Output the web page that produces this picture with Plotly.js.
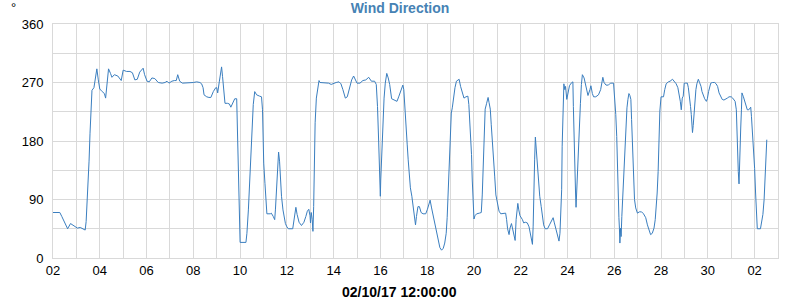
<!DOCTYPE html>
<html>
<head>
<meta charset="utf-8">
<script src="https://cdn.plot.ly/plotly-3.0.1.min.js"></script>
<style>html,body{margin:0;padding:0;background:#fff;}#chart{width:800px;height:300px;}</style>
</head>
<body>
<div id="chart"></div>
<script>
const chartTitle = 'Wind Direction';
const xAxisTitle = '02/10/17 12:00:00';
const yUnit = '°';

const times = [
'2017-09-02 00:00','2017-09-02 07:00','2017-09-02 09:00','2017-09-02 12:00','2017-09-02 15:00','2017-09-02 18:00','2017-09-02 21:00',
'2017-09-03 01:00','2017-09-03 04:00','2017-09-03 07:30','2017-09-03 09:00','2017-09-03 10:00','2017-09-03 11:00','2017-09-03 12:00','2017-09-03 13:00','2017-09-03 14:00','2017-09-03 15:00','2017-09-03 16:00','2017-09-03 18:00','2017-09-03 19:00','2017-09-03 21:00','2017-09-03 22:30',
'2017-09-04 00:00','2017-09-04 02:30','2017-09-04 04:45','2017-09-04 06:00','2017-09-04 07:30','2017-09-04 09:00','2017-09-04 11:00','2017-09-04 12:30','2017-09-04 15:00','2017-09-04 18:30','2017-09-04 22:00',
'2017-09-05 00:00','2017-09-05 03:30','2017-09-05 07:00','2017-09-05 09:30','2017-09-05 12:00','2017-09-05 14:30','2017-09-05 17:00','2017-09-05 20:30','2017-09-05 22:00',
'2017-09-06 00:30','2017-09-06 02:45','2017-09-06 05:30','2017-09-06 08:30','2017-09-06 12:00','2017-09-06 16:00','2017-09-06 19:00','2017-09-06 21:00','2017-09-06 23:00',
'2017-09-07 02:00','2017-09-07 04:30','2017-09-07 06:30','2017-09-07 08:00','2017-09-07 10:00','2017-09-07 12:45','2017-09-07 17:00','2017-09-07 20:30',
'2017-09-08 00:00','2017-09-08 03:30','2017-09-08 06:45','2017-09-08 08:30','2017-09-08 10:00','2017-09-08 11:00','2017-09-08 13:45','2017-09-08 16:00','2017-09-08 18:00','2017-09-08 20:30','2017-09-08 23:00',
'2017-09-09 00:00','2017-09-09 01:00','2017-09-09 02:45','2017-09-09 03:45','2017-09-09 05:00','2017-09-09 06:00','2017-09-09 07:30','2017-09-09 08:30','2017-09-09 11:00','2017-09-09 13:00','2017-09-09 14:30','2017-09-09 16:45','2017-09-09 18:30','2017-09-09 20:30','2017-09-09 21:00','2017-09-09 22:15','2017-09-09 23:00',
'2017-09-10 00:00','2017-09-10 06:00','2017-09-10 07:00','2017-09-10 08:30','2017-09-10 09:30','2017-09-10 10:30','2017-09-10 11:30','2017-09-10 12:30','2017-09-10 13:30','2017-09-10 15:00','2017-09-10 17:00','2017-09-10 20:00','2017-09-10 22:00','2017-09-10 23:00','2017-09-10 23:30',
'2017-09-11 00:15','2017-09-11 01:30','2017-09-11 02:30','2017-09-11 03:30','2017-09-11 07:00','2017-09-11 08:00','2017-09-11 10:00','2017-09-11 11:30','2017-09-11 12:15','2017-09-11 13:15','2017-09-11 14:30','2017-09-11 15:30','2017-09-11 16:30','2017-09-11 17:30','2017-09-11 18:30','2017-09-11 20:00','2017-09-11 21:00','2017-09-11 22:30',
'2017-09-12 00:00','2017-09-12 01:30','2017-09-12 06:00','2017-09-12 07:30','2017-09-12 09:15','2017-09-12 10:30','2017-09-12 12:30','2017-09-12 15:00','2017-09-12 17:30','2017-09-12 19:30','2017-09-12 21:00','2017-09-12 22:30','2017-09-12 23:45',
'2017-09-13 00:15','2017-09-13 01:00','2017-09-13 02:00','2017-09-13 02:45','2017-09-13 03:30','2017-09-13 04:00','2017-09-13 05:00','2017-09-13 06:15','2017-09-13 07:30','2017-09-13 09:00','2017-09-13 10:00','2017-09-13 15:30','2017-09-13 18:45','2017-09-13 21:30',
'2017-09-14 00:00','2017-09-14 02:30','2017-09-14 05:30','2017-09-14 07:30','2017-09-14 09:30','2017-09-14 11:00','2017-09-14 12:00','2017-09-14 14:00','2017-09-14 16:30','2017-09-14 18:30','2017-09-14 20:30','2017-09-14 22:30',
'2017-09-15 00:00','2017-09-15 03:00','2017-09-15 06:00','2017-09-15 09:00','2017-09-15 12:00','2017-09-15 14:45','2017-09-15 18:00','2017-09-15 19:45','2017-09-15 21:00','2017-09-15 22:15','2017-09-15 23:15','2017-09-15 23:55',
'2017-09-16 00:20','2017-09-16 01:30','2017-09-16 02:30','2017-09-16 03:45','2017-09-16 05:00','2017-09-16 06:30','2017-09-16 08:00','2017-09-16 09:30','2017-09-16 11:30','2017-09-16 14:30','2017-09-16 17:00','2017-09-16 19:00','2017-09-16 21:00','2017-09-16 23:00',
'2017-09-17 00:00','2017-09-17 01:00','2017-09-17 02:00','2017-09-17 03:30','2017-09-17 04:30','2017-09-17 05:30','2017-09-17 06:45','2017-09-17 08:15','2017-09-17 09:30','2017-09-17 11:00','2017-09-17 12:00','2017-09-17 13:00','2017-09-17 14:30','2017-09-17 16:00','2017-09-17 17:45','2017-09-17 19:45','2017-09-17 22:30',
'2017-09-18 00:15','2017-09-18 01:45','2017-09-18 03:00','2017-09-18 04:30','2017-09-18 06:15','2017-09-18 08:00','2017-09-18 09:30','2017-09-18 11:15','2017-09-18 13:00','2017-09-18 14:45','2017-09-18 16:30','2017-09-18 18:00','2017-09-18 19:30','2017-09-18 20:30','2017-09-18 21:30','2017-09-18 22:30','2017-09-18 23:30',
'2017-09-19 00:45','2017-09-19 01:45','2017-09-19 03:00','2017-09-19 04:30','2017-09-19 06:00','2017-09-19 08:45','2017-09-19 10:15','2017-09-19 12:00','2017-09-19 13:45','2017-09-19 15:45','2017-09-19 17:45','2017-09-19 18:45','2017-09-19 19:45','2017-09-19 21:00','2017-09-19 21:30','2017-09-19 22:15','2017-09-19 23:00',
'2017-09-20 00:00','2017-09-20 01:00','2017-09-20 02:45','2017-09-20 05:30','2017-09-20 07:30','2017-09-20 08:30','2017-09-20 09:30','2017-09-20 10:30','2017-09-20 11:30','2017-09-20 13:00','2017-09-20 14:30','2017-09-20 15:30','2017-09-20 16:45','2017-09-20 17:45','2017-09-20 19:15','2017-09-20 20:15','2017-09-20 21:15','2017-09-20 22:30',
'2017-09-21 00:00','2017-09-21 01:45','2017-09-21 03:30','2017-09-21 06:15','2017-09-21 08:30','2017-09-21 09:30','2017-09-21 10:30','2017-09-21 12:00','2017-09-21 13:00','2017-09-21 14:30','2017-09-21 15:30','2017-09-21 16:30','2017-09-21 17:15','2017-09-21 18:15','2017-09-21 19:15','2017-09-21 20:00','2017-09-21 21:00','2017-09-21 22:00','2017-09-21 23:15',
'2017-09-22 01:45','2017-09-22 03:00','2017-09-22 04:45','2017-09-22 06:45','2017-09-22 08:30','2017-09-22 10:00','2017-09-22 11:00','2017-09-22 12:00','2017-09-22 12:45','2017-09-22 13:15','2017-09-22 14:15','2017-09-22 15:00','2017-09-22 16:00','2017-09-22 17:00','2017-09-22 18:00','2017-09-22 19:30','2017-09-22 21:00','2017-09-22 22:15','2017-09-22 23:30',
'2017-09-23 01:00','2017-09-23 03:30','2017-09-23 05:30','2017-09-23 07:30','2017-09-23 09:15','2017-09-23 10:30','2017-09-23 12:00','2017-09-23 13:15','2017-09-23 15:15','2017-09-23 16:15','2017-09-23 17:00','2017-09-23 18:00','2017-09-23 18:30','2017-09-23 19:15','2017-09-23 20:15','2017-09-23 21:15','2017-09-23 22:00','2017-09-23 23:15',
'2017-09-24 00:45','2017-09-24 02:00','2017-09-24 03:45','2017-09-24 05:30','2017-09-24 06:00','2017-09-24 06:45','2017-09-24 07:30','2017-09-24 08:15','2017-09-24 08:45','2017-09-24 09:30','2017-09-24 10:15','2017-09-24 11:15','2017-09-24 12:15','2017-09-24 13:15','2017-09-24 14:15','2017-09-24 15:15','2017-09-24 17:00','2017-09-24 18:30','2017-09-24 19:45','2017-09-24 21:00','2017-09-24 23:00',
'2017-09-25 00:00','2017-09-25 01:30','2017-09-25 02:45','2017-09-25 05:00','2017-09-25 07:45','2017-09-25 10:00','2017-09-25 11:15','2017-09-25 12:15','2017-09-25 13:30','2017-09-25 15:30','2017-09-25 18:00','2017-09-25 20:00','2017-09-25 23:15',
'2017-09-26 00:15','2017-09-26 01:30','2017-09-26 02:30','2017-09-26 03:00','2017-09-26 03:45','2017-09-26 04:45','2017-09-26 05:15','2017-09-26 05:45','2017-09-26 06:30','2017-09-26 07:00','2017-09-26 07:45','2017-09-26 08:45','2017-09-26 10:00','2017-09-26 11:00','2017-09-26 12:00','2017-09-26 13:00','2017-09-26 14:00','2017-09-26 15:00','2017-09-26 16:00','2017-09-26 17:00','2017-09-26 17:45','2017-09-26 18:45','2017-09-26 19:45','2017-09-26 20:45','2017-09-26 22:00','2017-09-26 23:45',
'2017-09-27 01:45','2017-09-27 04:00','2017-09-27 06:00','2017-09-27 08:15','2017-09-27 10:00','2017-09-27 11:30','2017-09-27 13:15','2017-09-27 15:00','2017-09-27 16:45','2017-09-27 18:00','2017-09-27 19:00','2017-09-27 20:00','2017-09-27 21:00','2017-09-27 21:45','2017-09-27 22:45',
'2017-09-28 00:00','2017-09-28 02:30','2017-09-28 03:45','2017-09-28 05:15','2017-09-28 07:30','2017-09-28 09:15','2017-09-28 11:45','2017-09-28 13:30','2017-09-28 15:30','2017-09-28 17:15','2017-09-28 18:30','2017-09-28 19:45','2017-09-28 20:45','2017-09-28 21:45','2017-09-28 22:45','2017-09-28 23:45',
'2017-09-29 01:00','2017-09-29 03:00','2017-09-29 04:00','2017-09-29 05:15','2017-09-29 06:15','2017-09-29 07:00','2017-09-29 07:30','2017-09-29 08:15','2017-09-29 09:00','2017-09-29 09:45','2017-09-29 10:45','2017-09-29 11:45','2017-09-29 12:45','2017-09-29 14:15','2017-09-29 15:30','2017-09-29 17:00','2017-09-29 18:00','2017-09-29 19:15','2017-09-29 20:45','2017-09-29 22:30','2017-09-29 23:30',
'2017-09-30 00:45','2017-09-30 01:45','2017-09-30 03:00','2017-09-30 04:45','2017-09-30 07:00','2017-09-30 08:30','2017-09-30 10:00','2017-09-30 11:30','2017-09-30 13:00','2017-09-30 14:45','2017-09-30 16:30','2017-09-30 18:15','2017-09-30 20:00','2017-09-30 21:45',
'2017-10-01 00:00','2017-10-01 01:30','2017-10-01 02:45','2017-10-01 04:00','2017-10-01 05:15','2017-10-01 06:00','2017-10-01 06:30','2017-10-01 07:15','2017-10-01 08:00','2017-10-01 08:30','2017-10-01 09:45','2017-10-01 10:30','2017-10-01 11:00','2017-10-01 12:30','2017-10-01 13:45','2017-10-01 15:15','2017-10-01 16:30','2017-10-01 18:00','2017-10-01 19:00','2017-10-01 20:00','2017-10-01 20:45','2017-10-01 21:45','2017-10-01 22:45',
'2017-10-02 00:00','2017-10-02 01:00','2017-10-02 02:00','2017-10-02 02:45','2017-10-02 06:00','2017-10-02 07:15','2017-10-02 08:30','2017-10-02 09:45','2017-10-02 10:45','2017-10-02 11:45','2017-10-02 12:30'
];

const windDirection = [
70,70,64,53,45,53,50,
46,47,44,43,56,85,110,149,192,233,258,262,274,291,274,
260,256,253,246,269,291,284,278,282,280,273,
289,287,287,285,274,275,286,292,282,
272,271,277,276,270,269,270,272,269,
272,273,273,282,272,269,269,270,
270,271,270,268,262,251,248,247,247,256,262,
262,254,272,282,294,279,259,238,238,237,232,241,245,245,208,136,62,
24,24,38,74,106,149,192,223,236,256,251,249,248,228,185,
146,115,85,68,68,69,64,59,74,110,146,163,149,115,95,74,62,53,
48,45,45,59,78,67,55,50,55,64,72,75,65,
54,70,59,41,79,141,208,246,262,273,270,269,269,267,
269,270,271,268,259,251,246,248,264,274,280,274,
269,269,273,274,278,272,272,267,233,177,123,95,
120,167,215,246,269,284,277,267,245,243,241,249,258,266,
259,228,203,174,151,126,108,95,79,59,51,64,79,79,70,68,68,
75,82,89,77,64,51,39,26,16,12,15,23,38,62,100,151,197,
223,231,246,262,272,275,264,253,246,248,249,236,213,187,159,120,79,
60,65,68,69,70,97,146,203,229,238,247,239,229,205,177,149,126,97,
82,72,68,68,69,59,45,36,46,53,46,41,36,27,59,69,84,74,65,
59,54,55,54,48,38,28,21,49,100,151,186,164,141,115,95,79,64,51,
45,45,51,56,62,54,44,36,26,38,62,105,172,234,268,259,264,244,
254,265,269,271,233,177,110,100,78,110,136,172,208,238,267,282,277,267,259,250,259,
265,253,248,248,251,259,269,278,270,266,266,269,269,
253,221,187,146,97,62,46,23,46,33,64,100,141,182,213,231,244,253,250,244,213,162,115,90,77,69,
71,71,68,62,51,43,36,38,46,59,74,100,133,179,226,
248,248,259,268,271,272,275,272,268,262,254,241,228,246,249,269,
269,269,262,249,233,221,204,193,204,221,241,259,268,275,270,264,256,249,245,241,245,
256,264,269,270,270,268,264,254,249,244,243,244,246,248,
248,246,244,241,228,177,136,133,114,151,200,229,254,248,241,236,228,228,231,232,218,195,169,
138,100,64,45,45,56,67,90,126,162,182
];

const xRange = ['2017-09-02 00:00', '2017-10-03 00:00'];
const yRange = [0, 360];
const yTickStep = 90;
const yMinorStep = 45;
const DAY = 86400000;

const gridColor = '#d9d9d9';
const fontFamily = 'Liberation Sans, Arial, sans-serif';
const tickFont = {family: fontFamily, size: 13, color: '#000'};

const trace = {
  type: 'scatter',
  mode: 'lines',
  x: times,
  y: windDirection,
  line: {color: '#3a7ebf', width: 1},
  hoverinfo: 'x+y'
};

const layout = {
  width: 800,
  height: 300,
  margin: {l: 53, r: 22, t: 24, b: 42},
  paper_bgcolor: '#fff',
  plot_bgcolor: '#fff',
  showlegend: false,
  title: {
    text: chartTitle,
    font: {family: fontFamily, size: 14, color: '#4682b4', weight: 'bold'},
    x: 0.5, xanchor: 'center', y: 0.973, yanchor: 'middle'
  },
  xaxis: {
    type: 'date',
    range: xRange,
    tick0: '2017-09-02',
    dtick: 2 * DAY,
    tickformat: '%d',
    ticks: '',
    tickfont: tickFont,
    showgrid: true,
    gridcolor: gridColor,
    gridwidth: 1,
    minor: {dtick: DAY, tick0: '2017-09-02', showgrid: true, gridcolor: gridColor, gridwidth: 1, ticks: ''},
    showline: true, mirror: true, linecolor: gridColor, linewidth: 1,
    zeroline: false
  },
  yaxis: {
    range: yRange,
    dtick: yTickStep,
    tick0: 0,
    ticks: '',
    ticklabelstandoff: 6,
    tickfont: tickFont,
    showgrid: true,
    gridcolor: gridColor,
    gridwidth: 1,
    minor: {dtick: yMinorStep, showgrid: true, gridcolor: gridColor, gridwidth: 1, ticks: ''},
    showline: true, mirror: true, linecolor: gridColor, linewidth: 1,
    zeroline: false
  },
  annotations: [{
    text: yUnit,
    xref: 'paper', yref: 'paper',
    x: -0.054, y: 1.072,
    xanchor: 'center', yanchor: 'middle',
    showarrow: false,
    font: {family: fontFamily, size: 13, color: '#000'}
  }, {
    text: xAxisTitle,
    xref: 'paper', yref: 'paper',
    x: 0.4786, y: -0.145,
    xanchor: 'center', yanchor: 'middle',
    showarrow: false,
    font: {family: fontFamily, size: 14, color: '#000', weight: 'bold'}
  }]
};

Plotly.newPlot('chart', [trace], layout, {displayModeBar: false, staticPlot: true});
</script>
</body>
</html>
